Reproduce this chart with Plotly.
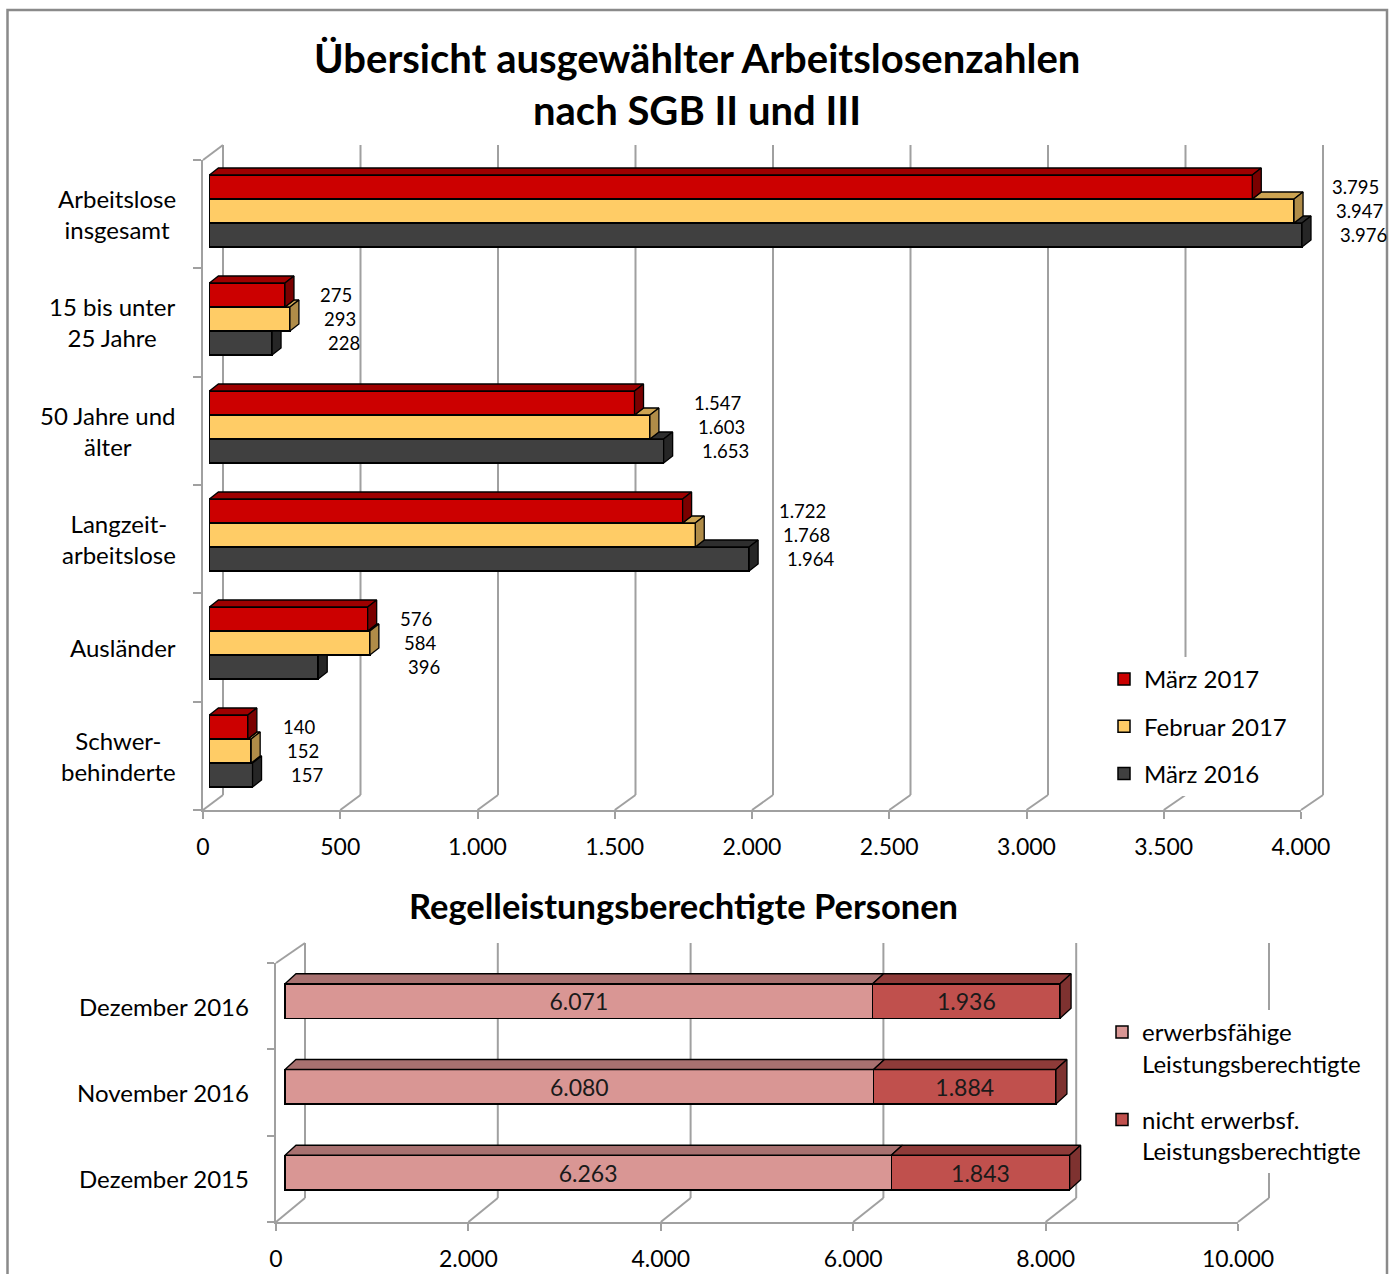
import plotly.graph_objects as go

W, H = 1395, 1274
FONT = "Lato"

# ---------------- data ----------------
top_categories = ["Arbeitslose<br>insgesamt", "15 bis unter<br>25 Jahre", "50 Jahre und<br>älter",
                  "Langzeit-<br>arbeitslose", "Ausländer", "Schwer-<br>behinderte"]
top_series_names = ["März 2017", "Februar 2017", "März 2016"]
maerz_2017 = [3795, 275, 1547, 1722, 576, 140]
februar_2017 = [3947, 293, 1603, 1768, 584, 152]
maerz_2016 = [3976, 228, 1653, 1964, 396, 157]
top_ticks = [0, 500, 1000, 1500, 2000, 2500, 3000, 3500, 4000]
top_tick_labels = ["0", "500", "1.000", "1.500", "2.000", "2.500", "3.000", "3.500", "4.000"]

bottom_categories = ["Dezember 2016", "November 2016", "Dezember 2015"]
bottom_series_names = ["erwerbsfähige<br>Leistungsberechtigte", "nicht erwerbsf.<br>Leistungsberechtigte"]
erwerbsfaehige = [6071, 6080, 6263]
nicht_erwerbsfaehige = [1936, 1884, 1843]
bottom_ticks = [0, 2000, 4000, 6000, 8000, 10000]
bottom_tick_labels = ["0", "2.000", "4.000", "6.000", "8.000", "10.000"]

# ---------------- styles ----------------
top_front = ["#CC0000", "#FFCC66", "#404040"]
top_topface = ["#9E0000", "#CDA452", "#2E2E2E"]
top_sideface = ["#7A0000", "#B08C48", "#262626"]
bot_front = ["#D99694", "#C0504D"]
bot_topface = ["#A87170", "#8E3B39"]
bot_sideface = "#7E3230"
GRID = "#A0A0A0"
OUTLINE = "#000000"


def de(v):
    return f"{v:,}".replace(",", ".")


def xdom(lo, hi):
    return [lo / W, hi / W]


def ydom(top, bot):
    return [1 - bot / H, 1 - top / H]


def x_lin(px_zero, scale, lo, hi):
    return dict(domain=xdom(lo, hi), range=[(lo - px_zero) / scale, (hi - px_zero) / scale])


def y_cat(py_first, step, top, bot):
    return dict(domain=ydom(top, bot), range=[(bot - py_first) / step, (top - py_first) / step])


# geometry (pixels)
TB_X0, TB_SX = 209.4, 0.2748       # top bars plane
TB_Y0, TB_SY = 211.0, 108.0
T_DEPTH = (9.0, 7.0)
T_BARH = 24.0
TF = dict(x0=203, x1=1301, y0=160, y1=810)     # front plane
TK = dict(x0=223, x1=1323, y0=145, y1=795)     # back wall

BB_X0, BB_SX = 285.0, 0.0968
BB_Y0, BB_SY = 1001.0, 85.75
B_DEPTH = (11.0, 10.0)
B_BARH = 34.5
BF = dict(x0=276, x1=1238, y0=963, y1=1222)
BK = dict(x0=305, x1=1269, y0=943, y1=1198)

fig = go.Figure()

# ---------------- top chart ----------------
series = [maerz_2017, februar_2017, maerz_2016]
wb = T_BARH / TB_SY
dxu = T_DEPTH[0] / TB_SX
dyu = T_DEPTH[1] / TB_SY


def pos(s, i):
    return i + (s - 1) * wb


for s in range(3):
    fig.add_trace(go.Bar(
        orientation="h", x=series[s], y=[pos(s, i) for i in range(len(top_categories))],
        width=wb, name=top_series_names[s], xaxis="x2", yaxis="y2",
        marker=dict(color=top_front[s], line=dict(color=OUTLINE, width=1.5)),
        legend="legend", legendgroup=top_series_names[s], hoverinfo="skip"))

for s in [2, 1, 0]:
    tx, ty, sx, sy = [], [], [], []
    for i in range(len(top_categories)):
        v = series[s][i]
        yT = pos(s, i) - wb / 2
        yB = pos(s, i) + wb / 2
        a = series[s - 1][i] if s > 0 else 0
        if v > a:
            tx += [a, v, v + dxu, a + dxu, a, None]
            ty += [yT, yT, yT - dyu, yT - dyu, yT, None]
        cut = yT if (s > 0 and series[s - 1][i] > v) else yT - dyu
        sx += [v, v, v + dxu, v + dxu, v, None]
        sy += [yT, yB, yB - dyu, cut, yT, None]
    for xs, ys, col in [(tx, ty, top_topface[s]), (sx, sy, top_sideface[s])]:
        fig.add_trace(go.Scatter(x=xs, y=ys, xaxis="x2", yaxis="y2", mode="lines", fill="toself",
                                 fillcolor=col, line=dict(color=OUTLINE, width=1.3),
                                 showlegend=False, hoverinfo="skip"))

# ---------------- bottom chart ----------------
wb2 = B_BARH / BB_SY
dxu2 = B_DEPTH[0] / BB_SX
dyu2 = B_DEPTH[1] / BB_SY
bpos = list(range(len(bottom_categories)))
for k, vals in enumerate([erwerbsfaehige, nicht_erwerbsfaehige]):
    fig.add_trace(go.Bar(
        orientation="h", x=vals, y=bpos, width=wb2, name=bottom_series_names[k],
        xaxis="x5", yaxis="y5", text=[de(v) for v in vals], textposition="inside",
        insidetextanchor="middle", textangle=0, constraintext="none",
        textfont=dict(size=23, color="#1a1a1a", family=FONT),
        marker=dict(color=bot_front[k], line=dict(color=OUTLINE, width=1.5)),
        legend="legend2", legendgroup=bottom_series_names[k], hoverinfo="skip"))

px_, py_, rx_, ry_, sx_, sy_ = [], [], [], [], [], []
for j in bpos:
    p = erwerbsfaehige[j]
    t = p + nicht_erwerbsfaehige[j]
    yT = j - wb2 / 2
    yB = j + wb2 / 2
    px_ += [0, p, p + dxu2, dxu2, 0, None]
    py_ += [yT, yT, yT - dyu2, yT - dyu2, yT, None]
    rx_ += [p, t, t + dxu2, p + dxu2, p, None]
    ry_ += [yT, yT, yT - dyu2, yT - dyu2, yT, None]
    sx_ += [t, t, t + dxu2, t + dxu2, t, None]
    sy_ += [yT, yB, yB - dyu2, yT - dyu2, yT, None]
for xs, ys, col in [(px_, py_, bot_topface[0]), (rx_, ry_, bot_topface[1]), (sx_, sy_, bot_sideface)]:
    fig.add_trace(go.Scatter(x=xs, y=ys, xaxis="x5", yaxis="y5", mode="lines", fill="toself",
                             fillcolor=col, line=dict(color=OUTLINE, width=1.3),
                             showlegend=False, hoverinfo="skip"))

# ---------------- axes ----------------
hidden = dict(visible=False, fixedrange=True)
tickfont = dict(size=23, color="#000000", family=FONT)

# top bars
xa2 = x_lin(TB_X0, TB_SX, 204, 1350)
xa2.update(anchor="y2", **hidden)
ya2 = y_cat(TB_Y0, TB_SY, 150, 815)
ya2.update(anchor="x2", **hidden)
# top front
xa3 = dict(domain=xdom(TF["x0"], TF["x1"]), range=[0, 4000], anchor="y3", tickvals=top_ticks,
           ticktext=top_tick_labels, ticks="outside", ticklen=7, tickwidth=2, tickcolor=GRID,
           showline=True, linecolor=GRID, linewidth=2, showgrid=False, zeroline=False,
           tickfont=tickfont, ticklabelstandoff=8, automargin=False)
ya3 = dict(domain=ydom(TF["y0"], TF["y1"]), range=[len(top_categories) - 0.5, -0.5], anchor="x3",
           tickvals=[k - 0.5 for k in range(len(top_categories) + 1)], showticklabels=False,
           ticks="outside", ticklen=8, tickwidth=2, tickcolor=GRID, showline=True,
           linecolor=GRID, linewidth=2, showgrid=False, zeroline=False, automargin=False)
# bottom bars
xa5 = x_lin(BB_X0, BB_SX, 280, 1265)
xa5.update(anchor="y5", **hidden)
ya5 = y_cat(BB_Y0, BB_SY, 950, 1225)
ya5.update(anchor="x5", **hidden)
# bottom front
xa6 = dict(domain=xdom(BF["x0"], BF["x1"]), range=[0, 10000], anchor="y6", tickvals=bottom_ticks,
           ticktext=bottom_tick_labels, ticks="outside", ticklen=7, tickwidth=2, tickcolor=GRID,
           showline=True, linecolor=GRID, linewidth=2, showgrid=False, zeroline=False,
           tickfont=tickfont, ticklabelstandoff=8, automargin=False)
ya6 = dict(domain=ydom(BF["y0"], BF["y1"]), range=[len(bottom_categories) - 0.5, -0.5], anchor="x6",
           tickvals=[k - 0.5 for k in range(len(bottom_categories) + 1)], showticklabels=False,
           ticks="outside", ticklen=7, tickwidth=2, tickcolor=GRID, showline=True,
           linecolor=GRID, linewidth=2, showgrid=False, zeroline=False, automargin=False)

# ---------------- 3D frame: back-wall gridlines and floor lines ----------------
shapes = []


def pline(x0, y0, x1, y1, color=GRID, width=2):
    shapes.append(dict(type="line", xref="paper", yref="paper", x0=x0 / W, y0=1 - y0 / H,
                       x1=x1 / W, y1=1 - y1 / H, line=dict(color=color, width=width), layer="below"))


pline(TF["x0"], TF["y0"], TK["x0"], TK["y0"])
for t in top_ticks:
    fx = TF["x0"] + t * (TF["x1"] - TF["x0"]) / top_ticks[-1]
    bx = TK["x0"] + t * (TK["x1"] - TK["x0"]) / top_ticks[-1]
    pline(fx, TF["y1"], bx, TK["y1"])
    pline(bx, TK["y1"], bx, TK["y0"])
pline(BF["x0"], BF["y0"], BK["x0"], BK["y0"])
for t in bottom_ticks:
    fx = BF["x0"] + t * (BF["x1"] - BF["x0"]) / bottom_ticks[-1]
    bx = BK["x0"] + t * (BK["x1"] - BK["x0"]) / bottom_ticks[-1]
    pline(fx, BF["y1"], bx, BK["y1"])
    pline(bx, BK["y1"], bx, BK["y0"])
# outer frame
shapes.append(dict(type="rect", xref="paper", yref="paper", x0=7.5 / W, x1=1387 / W,
                   y0=-0.05, y1=1 - 10 / H, line=dict(color="#8A8A8A", width=2.5), layer="below"))

# ---------------- annotations ----------------
ann = []
title_font = dict(size=40, family=FONT, color="#000")
ann.append(dict(text="<b>Übersicht ausgewählter Arbeitslosenzahlen</b>", x=697 / W, y=1 - 58 / H,
                xref="paper", yref="paper", xanchor="center", yanchor="middle", showarrow=False,
                font=title_font))
ann.append(dict(text="<b>nach SGB II und III</b>", x=697 / W, y=1 - 110 / H,
                xref="paper", yref="paper", xanchor="center", yanchor="middle", showarrow=False,
                font=title_font))
ann.append(dict(text="<b>Regelleistungsberechtigte Personen</b>", x=683 / W, y=1 - 905 / H,
                xref="paper", yref="paper", xanchor="center", yanchor="middle", showarrow=False,
                font=dict(size=34.5, family=FONT, color="#000")))
for i, c in enumerate(top_categories):
    ann.append(dict(text=c, x=178 / W, xref="paper", y=i, yref="y3", xanchor="right", yanchor="middle",
                    align="center", showarrow=False, font=dict(size=24, family=FONT, color="#000")))
for j, c in enumerate(bottom_categories):
    ann.append(dict(text=c, x=251 / W, xref="paper", y=j, yref="y6", xanchor="right", yanchor="middle",
                    showarrow=False, font=dict(size=24, family=FONT, color="#000")))
for i in range(len(top_categories)):
    gm = max(series[s][i] for s in range(3))
    for s in range(3):
        ann.append(dict(text=de(series[s][i]), x=gm, y=pos(s, i), xref="x2", yref="y2",
                        xanchor="left", yanchor="middle", xshift=28 + 4 * s, showarrow=False,
                        font=dict(size=18.5, family=FONT, color="#000")))

fig.update_layout(
    width=W, height=H, margin=dict(l=0, r=0, t=0, b=0, autoexpand=False),
    paper_bgcolor="white", plot_bgcolor="rgba(0,0,0,0)",
    font=dict(family=FONT, color="#000"),
    barmode="stack",
    xaxis2=xa2, yaxis2=ya2, xaxis3=xa3, yaxis3=ya3,
    xaxis5=xa5, yaxis5=ya5, xaxis6=xa6, yaxis6=ya6,
    shapes=shapes, annotations=ann,
    legend=dict(x=1104 / W, y=1 - 657 / H, xanchor="left", yanchor="top", bgcolor="white",
                font=dict(size=24, family=FONT, color="#000"), traceorder="grouped",
                tracegroupgap=13, itemwidth=30),
    legend2=dict(x=1102 / W, y=1 - 1010 / H, xanchor="left", yanchor="top", bgcolor="white",
                 font=dict(size=24, family=FONT, color="#000"), traceorder="grouped",
                 tracegroupgap=22, itemwidth=30, valign="top"),
    showlegend=True,
)

fig.write_html("out.html", post_script="document.body.style.margin='0';",
               config={"displayModeBar": False})
